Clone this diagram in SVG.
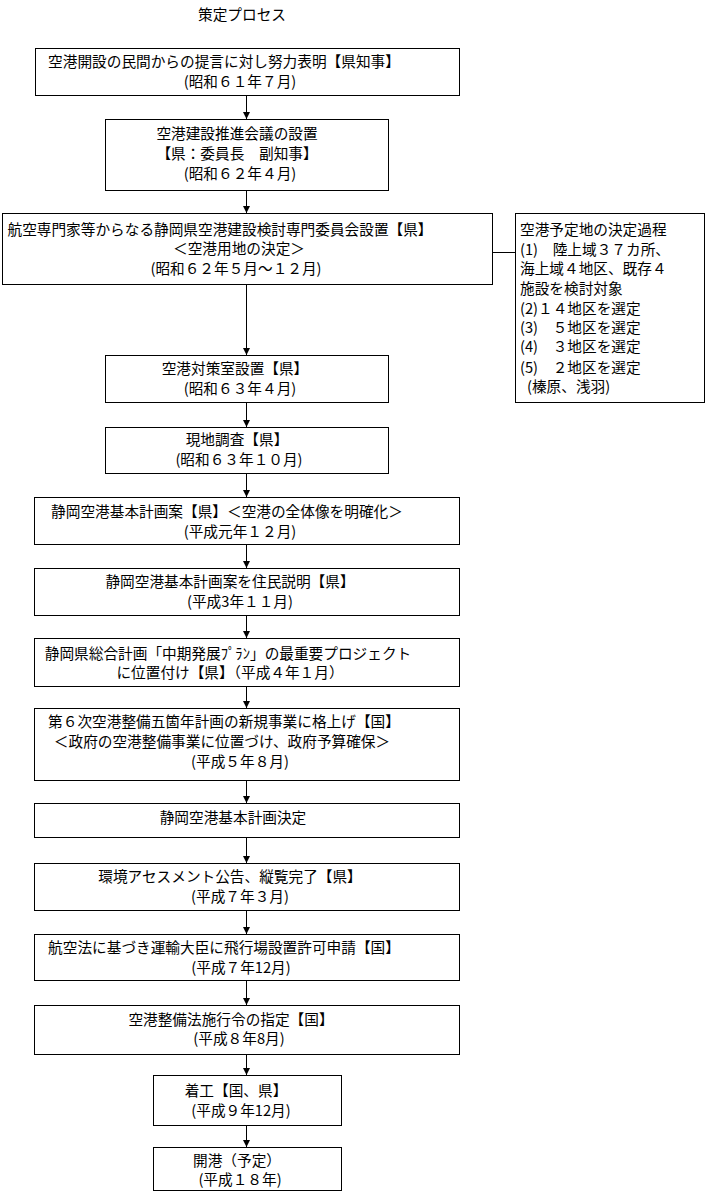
<svg xmlns="http://www.w3.org/2000/svg" width="705" height="1192" viewBox="0 0 705 1192">
<defs>
<marker id="ah" markerWidth="8" markerHeight="8" refX="7" refY="3.5" orient="auto" markerUnits="userSpaceOnUse">
<path d="M0,0 L7,3.5 L0,7 Z" fill="#000"/>
</marker>
<style>
text{font-family:"Noto Sans CJK JP","Noto Sans CJK SC",sans-serif;font-size:14.67px;fill:#000;dominant-baseline:central}
.c{text-anchor:middle}
rect{fill:#fff;stroke:#000;stroke-width:1}
.ln{stroke:#000;stroke-width:1;fill:none}
</style>
</defs>
<rect x="0" y="0" width="705" height="1192" style="fill:#fff;stroke:none"/>
<text id="title" x="242" y="13" class="c">策定プロセス</text>
<g id="connectors">
<line class="ln" x1="246.5" y1="95" x2="246.5" y2="119" marker-end="url(#ah)"/>
<line class="ln" x1="246.5" y1="190" x2="246.5" y2="213" marker-end="url(#ah)"/>
<line class="ln" x1="246.5" y1="284" x2="246.5" y2="355" marker-end="url(#ah)"/>
<line class="ln" x1="246.5" y1="402" x2="246.5" y2="427" marker-end="url(#ah)"/>
<line class="ln" x1="246.5" y1="473" x2="246.5" y2="497" marker-end="url(#ah)"/>
<line class="ln" x1="246.5" y1="544" x2="246.5" y2="568" marker-end="url(#ah)"/>
<line class="ln" x1="246.5" y1="615" x2="246.5" y2="638" marker-end="url(#ah)"/>
<line class="ln" x1="246.5" y1="686" x2="246.5" y2="708" marker-end="url(#ah)"/>
<line class="ln" x1="246.5" y1="780" x2="246.5" y2="803" marker-end="url(#ah)"/>
<line class="ln" x1="246.5" y1="837" x2="246.5" y2="863" marker-end="url(#ah)"/>
<line class="ln" x1="246.5" y1="910" x2="246.5" y2="934" marker-end="url(#ah)"/>
<line class="ln" x1="246.5" y1="980" x2="246.5" y2="1005" marker-end="url(#ah)"/>
<line class="ln" x1="246.5" y1="1054" x2="246.5" y2="1075" marker-end="url(#ah)"/>
<line class="ln" x1="246.5" y1="1125" x2="246.5" y2="1147" marker-end="url(#ah)"/>
<line class="ln" x1="492" y1="252.5" x2="515" y2="252.5"/>
</g>
<g id="n1">
<rect x="35.5" y="48.5" width="424" height="47"/>
<text x="224" y="60" class="c">空港開設の民間からの提言に対し努力表明【県知事】</text>
<text x="240" y="80" class="c">(昭和６１年７月)</text>
</g>
<g id="n2">
<rect x="105.5" y="119.5" width="283" height="71"/>
<text x="237" y="132" class="c">空港建設推進会議の設置</text>
<text x="237" y="152" class="c">【県：委員長　副知事】</text>
<text x="240" y="172" class="c">(昭和６２年４月)</text>
</g>
<g id="n3">
<rect x="2.5" y="213.5" width="490" height="71"/>
<text x="220" y="228" class="c">航空専門家等からなる静岡県空港建設検討専門委員会設置【県】</text>
<text x="239" y="247" class="c">＜空港用地の決定＞</text>
<text x="236" y="267" class="c">(昭和６２年５月～１２月)</text>
</g>
<g id="side">
<rect x="515.5" y="213.5" width="189" height="189"/>
<text x="520" y="228">空港予定地の決定過程</text>
<text x="520" y="248">(1)　陸上域３７カ所、</text>
<text x="520" y="267">海上域４地区、既存４</text>
<text x="520" y="287">施設を検討対象</text>
<text x="520" y="307">(2)１４地区を選定</text>
<text x="520" y="326">(3)　５地区を選定</text>
<text x="520" y="345">(4)　３地区を選定</text>
<text x="520" y="366">(5)　２地区を選定</text>
<text x="527" y="385">(榛原、浅羽)</text>
</g>
<g id="n4">
<rect x="105.5" y="355.5" width="283" height="47"/>
<text x="235" y="367" class="c">空港対策室設置【県】</text>
<text x="240" y="387" class="c">(昭和６３年４月)</text>
</g>
<g id="n5">
<rect x="105.5" y="427.5" width="283" height="46"/>
<text x="237" y="438" class="c">現地調査【県】</text>
<text x="239" y="458" class="c">(昭和６３年１０月)</text>
</g>
<g id="n6">
<rect x="34.5" y="497.5" width="425" height="47"/>
<text x="227" y="510" class="c">静岡空港基本計画案【県】＜空港の全体像を明確化＞</text>
<text x="240" y="530" class="c">(平成元年１２月)</text>
</g>
<g id="n7">
<rect x="34.5" y="568.5" width="425" height="47"/>
<text x="230" y="580" class="c">静岡空港基本計画案を住民説明【県】</text>
<text x="240" y="600" class="c">(平成3年１１月)</text>
</g>
<g id="n8">
<rect x="34.5" y="638.5" width="425" height="48"/>
<text x="228" y="652" class="c">静岡県総合計画「中期発展ﾌﾟﾗﾝ」の最重要プロジェクト</text>
<text x="230" y="671" class="c">に位置付け【県】（平成４年１月）</text>
</g>
<g id="n9">
<rect x="34.5" y="708.5" width="425" height="72"/>
<text x="224" y="720" class="c">第６次空港整備五箇年計画の新規事業に格上げ【国】</text>
<text x="222" y="740" class="c">＜政府の空港整備事業に位置づけ、政府予算確保＞</text>
<text x="240" y="760" class="c">(平成５年８月)</text>
</g>
<g id="n10">
<rect x="34.5" y="803.5" width="425" height="34"/>
<text x="233" y="816" class="c">静岡空港基本計画決定</text>
</g>
<g id="n11">
<rect x="34.5" y="863.5" width="425" height="47"/>
<text x="230" y="875" class="c">環境アセスメント公告、縦覧完了【県】</text>
<text x="240" y="895" class="c">(平成７年３月)</text>
</g>
<g id="n12">
<rect x="34.5" y="934.5" width="425" height="46"/>
<text x="224" y="946" class="c">航空法に基づき運輸大臣に飛行場設置許可申請【国】</text>
<text x="241" y="966" class="c">(平成７年12月)</text>
</g>
<g id="n13">
<rect x="34.5" y="1005.5" width="425" height="49"/>
<text x="231" y="1018" class="c">空港整備法施行令の指定【国】</text>
<text x="239" y="1037" class="c">(平成８年8月)</text>
</g>
<g id="n14">
<rect x="153.5" y="1075.5" width="188" height="50"/>
<text x="236" y="1089" class="c">着工【国、県】</text>
<text x="241" y="1109" class="c">(平成９年12月)</text>
</g>
<g id="n15">
<rect x="153.5" y="1147.5" width="188" height="43"/>
<text x="237" y="1159" class="c">開港（予定）</text>
<text x="240" y="1178" class="c">(平成１８年)</text>
</g>
</svg>
